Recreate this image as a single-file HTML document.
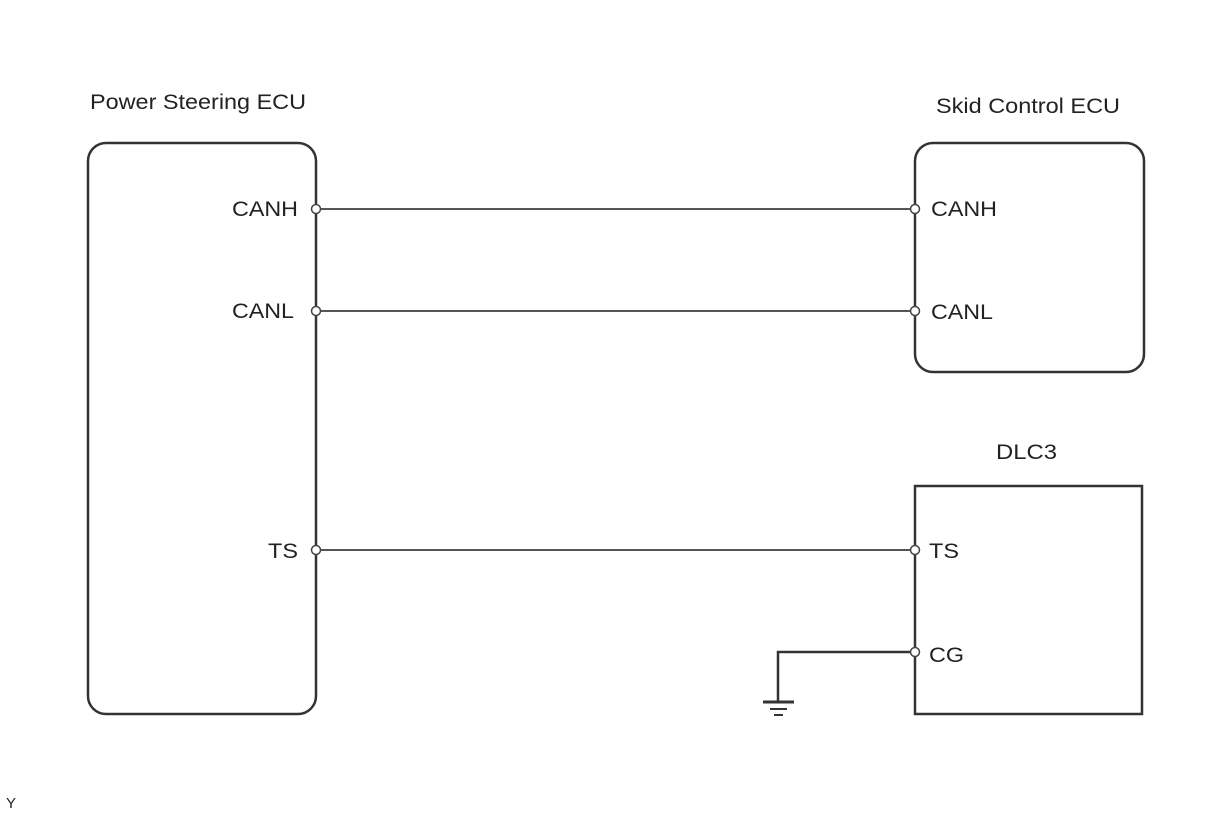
<!DOCTYPE html>
<html><head><style>body{margin:0;background:#fff}svg{display:block}text{font-family:"Liberation Sans",sans-serif;font-size:21px;fill:#222}</style></head><body>
<svg width="1210" height="814" viewBox="0 0 1210 814">
<g fill="none" stroke="#333" stroke-width="2.5">
<rect x="88" y="143" width="228" height="571" rx="18"/>
<rect x="915" y="143" width="229" height="229" rx="18"/>
<rect x="915" y="486" width="227" height="228" rx="0"/>
<line x1="316" y1="209" x2="915" y2="209" stroke-width="2" stroke="#555"/>
<line x1="316" y1="311" x2="915" y2="311" stroke-width="2" stroke="#555"/>
<line x1="316" y1="550" x2="915" y2="550" stroke-width="2" stroke="#555"/>
<polyline points="915,652 778,652 778,701" stroke-width="2.5"/>
<line x1="763" y1="702" x2="794" y2="702" stroke-width="3"/>
<line x1="770" y1="709" x2="787" y2="709" stroke-width="2"/>
<line x1="774" y1="715" x2="783" y2="715" stroke-width="2"/>
</g>
<g fill="#fff" stroke="#444" stroke-width="1.5">
<circle cx="316" cy="209" r="4.5"/><circle cx="316" cy="311" r="4.5"/><circle cx="316" cy="550" r="4.5"/>
<circle cx="915" cy="209" r="4.5"/><circle cx="915" cy="311" r="4.5"/><circle cx="915" cy="550" r="4.5"/><circle cx="915" cy="652" r="4.5"/>
</g>
<text x="90" y="109" textLength="216" lengthAdjust="spacingAndGlyphs">Power Steering ECU</text>
<text x="936" y="113" textLength="184" lengthAdjust="spacingAndGlyphs">Skid Control ECU</text>
<text x="996" y="459" textLength="61" lengthAdjust="spacingAndGlyphs">DLC3</text>
<text x="232" y="216" textLength="66" lengthAdjust="spacingAndGlyphs">CANH</text>
<text x="232" y="318" textLength="62" lengthAdjust="spacingAndGlyphs">CANL</text>
<text x="268" y="558" textLength="30" lengthAdjust="spacingAndGlyphs">TS</text>
<text x="931" y="216" textLength="66" lengthAdjust="spacingAndGlyphs">CANH</text>
<text x="931" y="319" textLength="62" lengthAdjust="spacingAndGlyphs">CANL</text>
<text x="929" y="558" textLength="30" lengthAdjust="spacingAndGlyphs">TS</text>
<text x="929" y="662" textLength="35" lengthAdjust="spacingAndGlyphs">CG</text>
<text x="6" y="808" style="font-size:15px">Y</text>
</svg>
</body></html>
